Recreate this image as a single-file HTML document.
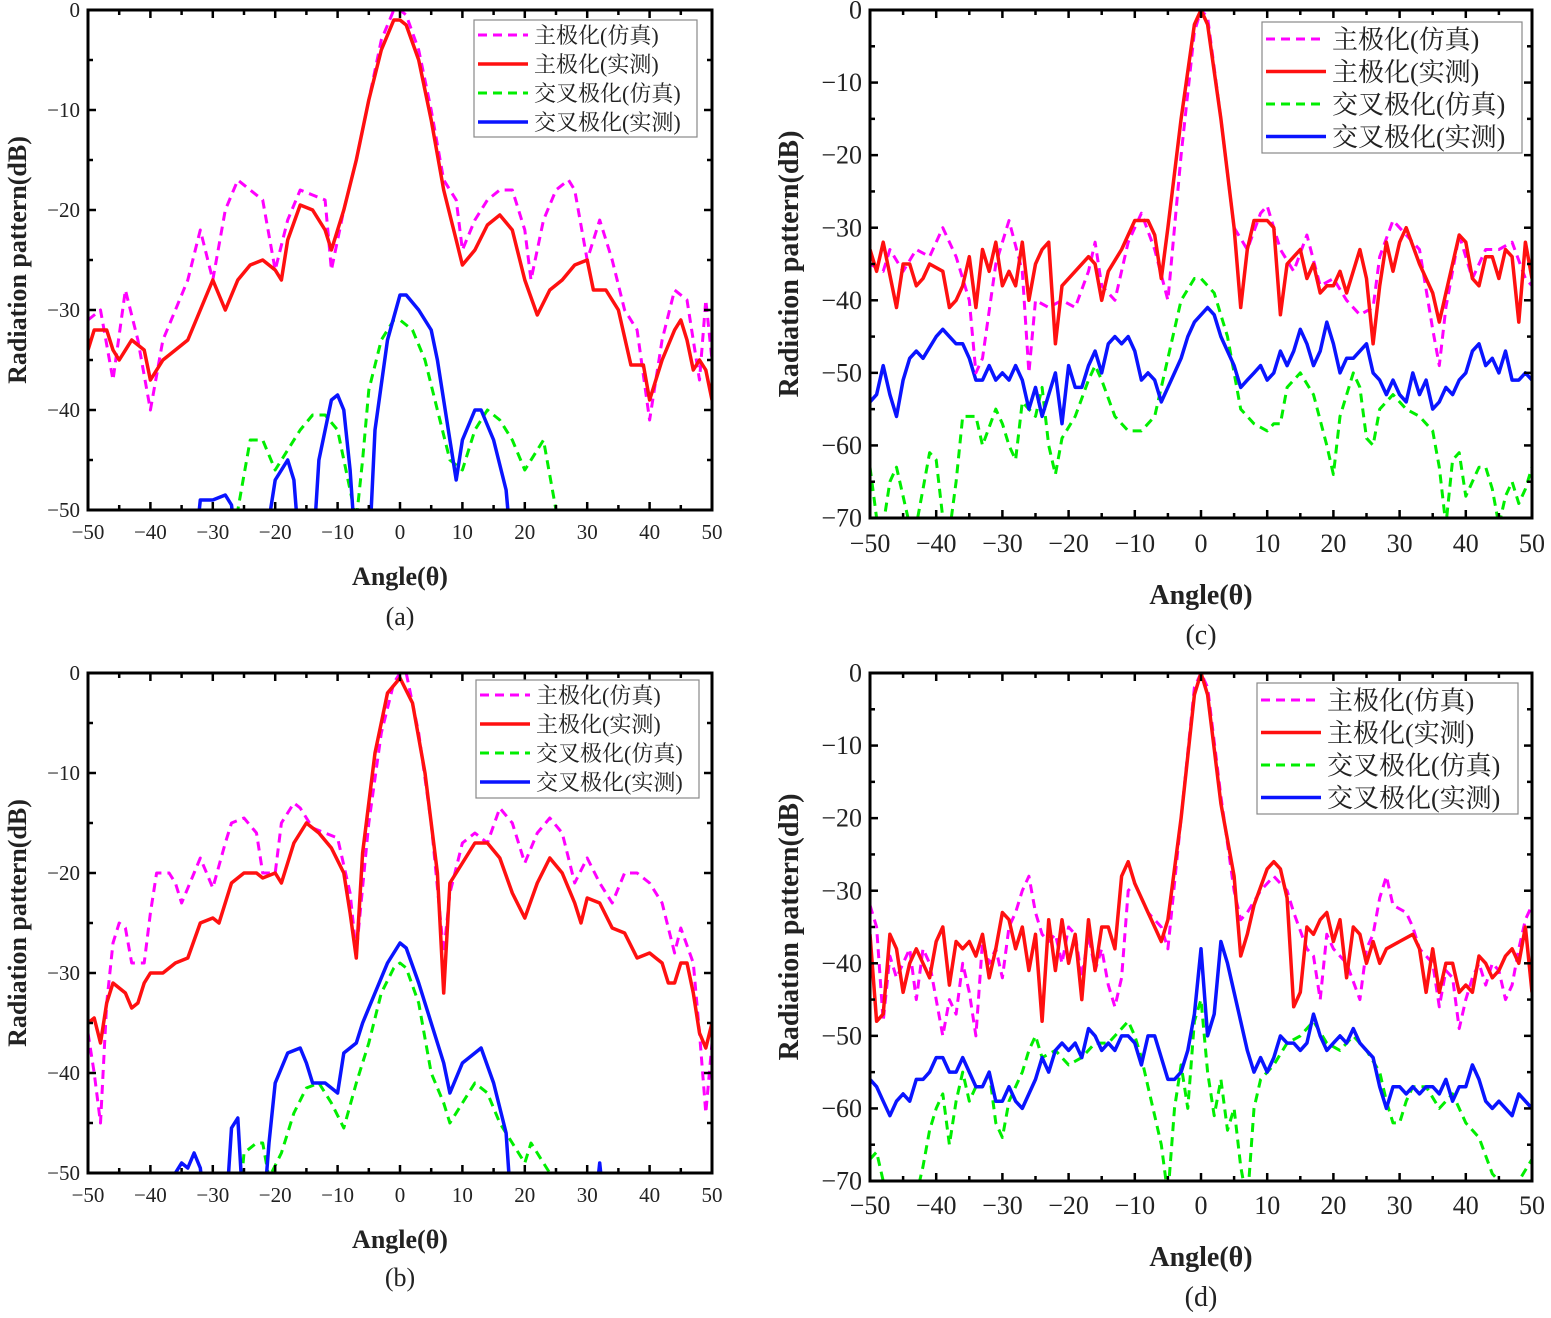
<!DOCTYPE html>
<html><head><meta charset="utf-8">
<style>
html,body{margin:0;padding:0;background:#fff;}
svg{display:block;}
text{font-family:"Liberation Serif","Noto Serif CJK SC","Noto Sans CJK SC",serif;fill:#222;}
</style></head>
<body>
<svg id="fig" width="1551" height="1318" viewBox="0 0 1551 1318" xmlns="http://www.w3.org/2000/svg"></svg>
<script>
// ---------- Panel (a) data ----------
const aMainSim=[[-50,-31],[-48,-30],[-46,-37],[-44,-28],[-42,-33],[-40,-40],[-38,-33],[-36,-30],[-34,-27],[-32,-22],[-30,-27],[-28,-20],[-26,-17],[-24,-18],[-22,-19],[-20,-26],[-18,-21],[-16,-18],[-14,-18.5],[-12,-19],[-11,-26],[-9,-20],[-7,-15],[-5,-9],[-3,-3],[-1,0],[0,0],[1,-0.5],[3,-4],[5,-10],[7,-17],[9,-19],[10,-24],[12,-21],[14,-19],[16,-18],[18,-18],[20,-22],[21,-27],[23,-21],[25,-18],[27,-17],[28,-18],[30,-25],[32,-21],[34,-25],[36,-30],[38,-32],[40,-41],[42,-33],[44,-28],[46,-29],[48,-37],[49,-29],[50,-35]];
const aMainMeas=[[-50,-34],[-49,-32],[-47,-32],[-46,-34],[-45,-35],[-43,-33],[-41,-34],[-40,-37],[-38,-35],[-36,-34],[-34,-33],[-32,-30],[-30,-27],[-28,-30],[-26,-27],[-24,-25.5],[-22,-25],[-20,-26],[-19,-27],[-18,-23],[-16,-19.5],[-14,-20],[-12,-22],[-11,-24],[-9,-20],[-7,-15],[-5,-9],[-3,-4],[-1,-1],[0,-1],[1,-1.5],[3,-5],[5,-11],[7,-18],[9,-23],[10,-25.5],[12,-24],[14,-21.5],[16,-20.5],[18,-22],[20,-27],[22,-30.5],[24,-28],[26,-27],[28,-25.5],[30,-25],[31,-28],[33,-28],[35,-30],[37,-35.5],[39,-35.5],[40,-39],[42,-35],[44,-32],[45,-31],[46,-33],[47,-36],[48,-35],[49,-36],[50,-39]];
const aCrossSim=[[-27,-55],[-26,-50],[-24,-43],[-22,-43],[-20,-46],[-18,-44],[-16,-42],[-14,-40.5],[-12,-40.5],[-10,-42],[-8,-48],[-7,-51],[-6,-45],[-5,-38],[-3,-33],[-1,-31],[0,-31],[2,-32],[4,-35],[6,-40],[8,-45],[10,-46],[12,-42],[14,-40],[16,-41],[18,-43],[20,-46],[22,-44],[23,-43],[25,-50],[26,-55]];
const aCrossMeas=[[-33,-55],[-32,-49],[-30,-49],[-28,-48.5],[-27,-49.5],[-26,-55],[-22,-55],[-20,-47],[-18,-45],[-17,-47],[-16,-55],[-14,-55],[-13,-45],[-11,-39],[-10,-38.5],[-9,-40],[-8,-46],[-7,-55],[-5,-55],[-4,-42],[-2,-33],[0,-28.5],[1,-28.5],[3,-30],[5,-32],[6,-35],[8,-43],[9,-47],[10,-43],[12,-40],[13,-40],[15,-43],[17,-48],[18,-55]];
// ---------- Panel (b) data ----------
const bMainSim=[[-50,-36],[-49,-40],[-48,-45],[-47,-33],[-46,-27],[-45,-25],[-44,-25.5],[-43,-29],[-41,-29],[-40,-24],[-39,-20],[-37,-20],[-36,-21],[-35,-23],[-33,-20],[-32,-18.5],[-31,-20],[-30,-21.5],[-28,-17],[-27,-15],[-25,-14.5],[-23,-16],[-22,-20],[-20,-20],[-19,-15],[-17,-13],[-16,-13.5],[-14,-15.5],[-12,-16],[-10,-16.5],[-8,-22],[-7,-28],[-5,-15],[-3,-6],[-1,-1],[0,0],[1,0],[3,-6],[5,-15],[7,-28],[8,-22],[10,-17],[12,-16],[14,-17],[16,-13.5],[18,-15],[20,-19],[22,-16],[24,-14.5],[26,-16],[28,-21],[30,-18.5],[32,-21],[34,-23],[36,-20],[38,-20],[40,-21],[42,-23],[44,-28],[45,-25.5],[47,-29],[48,-36],[49,-44],[50,-37]];
const bMainMeas=[[-50,-35],[-49,-34.5],[-48,-37],[-47,-33],[-46,-31],[-45,-31.5],[-44,-32],[-43,-33.5],[-42,-33],[-41,-31],[-40,-30],[-38,-30],[-36,-29],[-34,-28.5],[-32,-25],[-30,-24.5],[-29,-25],[-27,-21],[-25,-20],[-23,-20],[-22,-20.5],[-20,-20],[-19,-21],[-17,-17],[-15,-15],[-13,-16],[-11,-17.5],[-9,-20],[-8,-24],[-7,-28.5],[-6,-18],[-4,-8],[-2,-2],[0,-0.5],[2,-3],[4,-10],[6,-20],[7,-32],[8,-21],[10,-19],[12,-17],[14,-17],[16,-18.5],[18,-22],[20,-24.5],[22,-21],[24,-18.5],[26,-20],[28,-23],[29,-25],[30,-22.5],[32,-23],[34,-25.5],[36,-26],[38,-28.5],[40,-28],[41,-28.5],[42,-29],[43,-31],[44,-31],[45,-29],[46,-29],[47,-32],[48,-36],[49,-37.5],[50,-35]];
const bCrossSim=[[-26,-55],[-25,-48],[-23,-47],[-22,-47],[-21,-50.5],[-19,-48],[-17,-44],[-15,-41.5],[-13,-41],[-11,-43],[-9,-45.5],[-7,-41],[-5,-37],[-3,-32],[-1,-29.5],[0,-29],[1,-29.5],[3,-33],[5,-40],[7,-43],[8,-45],[10,-43],[12,-41],[14,-42],[16,-45],[18,-47],[20,-49],[21,-47],[23,-49],[25,-51],[26,-55]];
const bCrossMeas=[[-37,-55],[-36,-50],[-35,-49],[-34,-49.5],[-33,-48],[-32,-49.5],[-31,-55],[-28,-55],[-27,-45.5],[-26,-44.5],[-25,-55],[-22,-55],[-21,-47],[-20,-41],[-18,-38],[-16,-37.5],[-15,-39],[-14,-41],[-12,-41],[-11,-41.5],[-10,-42],[-9,-38],[-7,-37],[-6,-35],[-4,-32],[-2,-29],[0,-27],[1,-27.5],[3,-31],[5,-35],[7,-39],[8,-42],[10,-39],[12,-38],[13,-37.5],[15,-41],[17,-46],[18,-55],[29,-55],[30,-50.5],[31,-55],[32,-49],[33,-55]];
// ---------- Panel (c) data ----------
const cMainSim=[[-50,-35],[-48,-36],[-47,-33],[-45,-36],[-43,-33],[-41,-34],[-39,-30],[-37,-34],[-35,-40],[-34,-50],[-33,-48],[-31,-35],[-29,-29],[-27,-36],[-26,-50],[-25,-40],[-23,-41],[-21,-40],[-19,-41],[-17,-36],[-16,-32],[-15,-38],[-13,-40],[-11,-32],[-9,-28],[-7,-33],[-5,-40],[-3,-20],[-1,-3],[0,0],[1,-1],[3,-15],[5,-30],[7,-33],[9,-28],[10,-27],[12,-33],[14,-36],[16,-31],[18,-38],[20,-37],[22,-40],[24,-42],[26,-41],[27,-34],[29,-29],[31,-31],[33,-33],[35,-44],[36,-49],[37,-41],[39,-31],[41,-37],[43,-33],[45,-33],[47,-32],[49,-37],[50,-38]];
const cMainMeas=[[-50,-33],[-49,-36],[-48,-32],[-46,-41],[-45,-35],[-44,-35],[-43,-38],[-42,-37],[-41,-35],[-39,-36],[-38,-41],[-37,-40],[-36,-38],[-35,-34],[-34,-41],[-33,-33],[-32,-36],[-31,-32],[-30,-38],[-29,-36],[-28,-38],[-27,-32],[-26,-40],[-25,-35],[-24,-33],[-23,-32],[-22,-46],[-21,-38],[-19,-36],[-17,-34],[-16,-35],[-15,-40],[-14,-36],[-12,-33],[-10,-29],[-8,-29],[-7,-31],[-6,-37],[-5,-30],[-3,-15],[-1,-2],[0,0],[1,-2],[3,-15],[5,-30],[6,-41],[7,-33],[8,-29],[10,-29],[11,-30],[12,-42],[13,-35],[15,-33],[16,-37],[17,-35],[18,-39],[19,-38],[20,-38],[21,-36],[22,-39],[24,-33],[25,-37],[26,-46],[27,-38],[28,-32],[29,-36],[30,-32],[31,-30],[33,-35],[35,-39],[36,-43],[37,-39],[39,-31],[40,-32],[41,-37],[42,-38],[43,-34],[44,-34],[45,-37],[46,-33],[47,-34],[48,-43],[49,-32],[50,-37]];
const cCrossSim=[[-50,-63],[-49,-70],[-48,-71],[-47,-65],[-46,-63],[-44,-71],[-43,-71],[-42,-66],[-41,-61],[-40,-62],[-39,-70],[-38,-72],[-37,-65],[-36,-56],[-34,-56],[-33,-60],[-31,-55],[-30,-57],[-29,-60],[-28,-62],[-27,-54],[-25,-56],[-24,-52],[-23,-60],[-22,-64],[-21,-59],[-19,-56],[-17,-51],[-16,-49],[-15,-51],[-13,-56],[-11,-58],[-9,-58],[-7,-56],[-5,-48],[-3,-40],[-1,-37],[0,-37],[2,-39],[4,-45],[6,-55],[8,-57],[10,-58],[11,-57],[12,-57],[13,-52],[15,-50],[17,-53],[19,-60],[20,-64],[21,-56],[23,-50],[24,-52],[25,-59],[26,-60],[27,-55],[29,-53],[31,-55],[33,-56],[35,-58],[36,-63],[37,-71],[38,-62],[39,-61],[40,-67],[42,-63],[43,-63],[44,-66],[45,-71],[46,-67],[47,-65],[48,-68],[49,-66],[50,-63]];
const cCrossMeas=[[-50,-54],[-49,-53],[-48,-49],[-47,-53],[-46,-56],[-45,-51],[-44,-48],[-43,-47],[-42,-48],[-40,-45],[-39,-44],[-38,-45],[-37,-46],[-36,-46],[-35,-48],[-34,-51],[-33,-51],[-32,-49],[-31,-51],[-30,-50],[-29,-51],[-28,-49],[-27,-51],[-26,-55],[-25,-52],[-24,-56],[-23,-53],[-22,-50],[-21,-57],[-20,-49],[-19,-52],[-18,-52],[-17,-49],[-16,-47],[-15,-50],[-14,-46],[-13,-45],[-12,-46],[-11,-45],[-10,-47],[-9,-51],[-8,-50],[-7,-51],[-6,-54],[-5,-52],[-4,-50],[-3,-48],[-2,-45],[-1,-43],[0,-42],[1,-41],[2,-42],[3,-45],[4,-47],[5,-49],[6,-52],[7,-51],[8,-50],[9,-49],[10,-51],[11,-50],[12,-47],[13,-49],[14,-47],[15,-44],[16,-46],[17,-49],[18,-47],[19,-43],[20,-46],[21,-50],[22,-48],[23,-48],[24,-47],[25,-46],[26,-50],[27,-51],[28,-53],[29,-51],[30,-53],[31,-54],[32,-50],[33,-53],[34,-51],[35,-55],[36,-54],[37,-52],[38,-53],[39,-51],[40,-50],[41,-47],[42,-46],[43,-49],[44,-48],[45,-50],[46,-47],[47,-51],[48,-51],[49,-50],[50,-51]];
// ---------- Panel (d) data ----------
const dMainSim=[[-50,-32],[-49,-35],[-48,-48],[-47,-39],[-46,-42],[-44,-38],[-43,-45],[-42,-38],[-41,-40],[-40,-45],[-39,-50],[-38,-45],[-37,-47],[-36,-40],[-35,-44],[-34,-50],[-33,-37],[-32,-40],[-31,-38],[-30,-42],[-29,-35],[-28,-33],[-27,-30],[-26,-28],[-25,-33],[-24,-36],[-23,-37],[-22,-36],[-21,-40],[-20,-35],[-19,-36],[-18,-42],[-17,-36],[-16,-41],[-15,-38],[-14,-43],[-13,-46],[-12,-42],[-11,-30],[-10,-29],[-9,-31],[-8,-33],[-6,-35],[-5,-38],[-3,-20],[-1,-2],[0,0],[1,-2],[3,-17],[5,-30],[6,-34],[7,-33],[9,-30],[11,-28],[13,-30],[14,-33],[16,-38],[17,-39],[18,-45],[19,-36],[20,-38],[22,-40],[24,-45],[25,-38],[26,-36],[27,-31],[28,-28],[29,-32],[31,-33],[32,-35],[33,-38],[34,-39],[35,-40],[36,-46],[37,-41],[38,-42],[39,-49],[40,-45],[41,-42],[42,-40],[43,-43],[44,-40],[45,-41],[46,-45],[47,-43],[48,-38],[49,-34],[50,-32]];
const dMainMeas=[[-50,-36],[-49,-48],[-48,-47],[-47,-36],[-46,-38],[-45,-44],[-44,-40],[-43,-38],[-42,-40],[-41,-42],[-40,-37],[-39,-35],[-38,-43],[-37,-37],[-36,-38],[-35,-37],[-34,-39],[-33,-36],[-32,-42],[-31,-38],[-30,-33],[-29,-34],[-28,-38],[-27,-35],[-26,-41],[-25,-36],[-24,-48],[-23,-34],[-22,-41],[-21,-34],[-20,-40],[-19,-36],[-18,-45],[-17,-34],[-16,-41],[-15,-35],[-14,-35],[-13,-38],[-12,-28],[-11,-26],[-10,-29],[-9,-31],[-8,-33],[-7,-35],[-6,-37],[-5,-34],[-3,-20],[-1,-3],[0,0],[1,-3],[3,-18],[5,-28],[6,-39],[7,-36],[8,-32],[10,-27],[11,-26],[12,-27],[13,-31],[14,-46],[15,-44],[16,-35],[17,-36],[18,-34],[19,-33],[20,-37],[21,-34],[22,-42],[23,-35],[24,-36],[25,-40],[26,-37],[27,-40],[28,-38],[30,-37],[32,-36],[33,-38],[34,-44],[35,-38],[36,-44],[37,-40],[38,-40],[39,-44],[40,-43],[41,-44],[42,-39],[43,-40],[44,-42],[45,-41],[46,-39],[47,-38],[48,-40],[49,-35],[50,-44]];
const dCrossSim=[[-50,-67],[-49,-66],[-48,-70],[-47,-71],[-45,-72],[-43,-72],[-42,-68],[-41,-63],[-40,-60],[-39,-58],[-38,-65],[-37,-59],[-36,-55],[-35,-59],[-34,-57],[-33,-57],[-32,-55],[-31,-62],[-30,-64],[-29,-59],[-28,-57],[-27,-55],[-26,-52],[-25,-50],[-24,-53],[-22,-52],[-20,-54],[-18,-53],[-16,-51],[-14,-51],[-12,-49],[-11,-48],[-10,-50],[-9,-53],[-8,-57],[-7,-61],[-6,-65],[-5,-72],[-4,-60],[-3,-54],[-2,-60],[-1,-48],[0,-45],[1,-55],[2,-61],[3,-56],[4,-63],[5,-60],[6,-68],[7,-73],[8,-60],[9,-56],[11,-54],[13,-51],[15,-50],[17,-48],[19,-51],[21,-52],[23,-50],[25,-52],[27,-55],[28,-59],[29,-62],[30,-62],[31,-59],[32,-57],[34,-57],[36,-60],[38,-58],[40,-62],[42,-64],[44,-69],[46,-71],[48,-70],[50,-67]];
const dCrossMeas=[[-50,-56],[-49,-57],[-48,-59],[-47,-61],[-46,-59],[-45,-58],[-44,-59],[-43,-56],[-42,-56],[-41,-55],[-40,-53],[-39,-53],[-38,-55],[-37,-55],[-36,-53],[-35,-55],[-34,-57],[-33,-57],[-32,-55],[-31,-59],[-30,-59],[-29,-57],[-28,-59],[-27,-60],[-26,-58],[-25,-56],[-24,-53],[-23,-55],[-22,-52],[-21,-51],[-20,-52],[-19,-51],[-18,-53],[-17,-49],[-16,-50],[-15,-52],[-14,-51],[-13,-52],[-12,-50],[-11,-50],[-10,-51],[-9,-54],[-8,-50],[-7,-50],[-6,-53],[-5,-56],[-4,-56],[-3,-55],[-2,-52],[-1,-47],[0,-38],[1,-50],[2,-47],[3,-37],[4,-40],[5,-44],[6,-48],[7,-52],[8,-55],[9,-53],[10,-55],[11,-53],[12,-50],[13,-51],[14,-51],[15,-52],[16,-51],[17,-47],[18,-50],[19,-52],[20,-51],[21,-50],[22,-51],[23,-49],[24,-51],[25,-52],[26,-53],[27,-57],[28,-60],[29,-57],[30,-57],[31,-58],[32,-57],[33,-58],[34,-57],[35,-57],[36,-58],[37,-56],[38,-59],[39,-57],[40,-57],[41,-54],[42,-56],[43,-59],[44,-60],[45,-59],[46,-60],[47,-61],[48,-58],[49,-59],[50,-60]];
const xTicks=[-50,-40,-30,-20,-10,0,10,20,30,40,50];
const yTicksAB=[0,-10,-20,-30,-40,-50];
const yTicksCD=[0,-10,-20,-30,-40,-50,-60,-70];
const legendLabels=["主极化(仿真)","主极化(实测)","交叉极化(仿真)","交叉极化(实测)"];

const NS="http://www.w3.org/2000/svg";
const svg=document.getElementById('fig');
function mk(tag,attrs,parent){const e=document.createElementNS(NS,tag);for(const k in attrs)e.setAttribute(k,attrs[k]);(parent||svg).appendChild(e);return e;}
const fmt=v=>v<0?"\u2212"+Math.abs(v):String(v);

const styles=[
 {c:"#ff00ff",w:3,d:"9 6"},{c:"#ff1010",w:3.5,d:""},{c:"#00ee00",w:3,d:"9 6"},{c:"#0a14ff",w:3.5,d:""}];

function panel(id,p){
  const g=mk('g',{});
  
  
  const sx=v=>p.x0+(v+50)/100*(p.x1-p.x0);
  const sy=v=>p.y0+(-v)/(-p.ymin)*(p.y1-p.y0);
  const cp=mk('clipPath',{id:'clip'+id},g);
  mk('rect',{x:p.x0,y:p.y0,width:p.x1-p.x0,height:p.y1-p.y0},cp);
  const series=[p.s[0],p.s[1],p.s[2],p.s[3]];
  const names=['main-pol-sim-line','main-pol-meas-line','cross-pol-sim-line','cross-pol-meas-line'];
  const order=[2,3,0,1];
  order.forEach(i=>{
    const d=series[i].map((q,k)=>(k?'L':'M')+sx(q[0]).toFixed(1)+' '+sy(q[1]).toFixed(1)).join(' ');
    const path=mk('path',{d:d,fill:'none',stroke:styles[i].c,'stroke-width':styles[i].w,'stroke-dasharray':styles[i].d,'stroke-linejoin':'round','clip-path':'url(#clip'+id+')'},g);
    
    
  });
  const fr=mk('rect',{x:p.x0,y:p.y0,width:p.x1-p.x0,height:p.y1-p.y0,fill:'none',stroke:'#000','stroke-width':3},g);
  
  
  for(let v=-50;v<=50;v+=5){
    const L=(v%10===0)?8:5;const x=sx(v);
    mk('line',{x1:x,y1:p.y1,x2:x,y2:p.y1-L,stroke:'#000','stroke-width':2.5},g);
    mk('line',{x1:x,y1:p.y0,x2:x,y2:p.y0+L,stroke:'#000','stroke-width':2.5},g);
  }
  xTicks.forEach(v=>{
    const t=mk('text',{x:sx(v),y:p.xly,'font-size':p.fs,'text-anchor':'middle'},g);t.textContent=fmt(v);
    
    
  });
  for(let v=0;v>=p.ymin;v-=5){
    const L=(v%10===0)?8:5;const y=sy(v);
    mk('line',{x1:p.x0,y1:y,x2:p.x0+L,y2:y,stroke:'#000','stroke-width':2.5},g);
    mk('line',{x1:p.x1,y1:y,x2:p.x1-L,y2:y,stroke:'#000','stroke-width':2.5},g);
  }
  p.yt.forEach(v=>{
    const t=mk('text',{x:p.x0-8,y:sy(v)+p.fs*0.33,'font-size':p.fs,'text-anchor':'end'},g);t.textContent=fmt(v);
    
    
  });
  const xt=mk('text',{x:(p.x0+p.x1)/2,y:p.xty,'font-size':p.tfs,'font-weight':'bold','text-anchor':'middle'},g);xt.textContent='Angle(θ)';
  
  
  const yt=mk('text',{x:0,y:0,'font-size':p.tfs,'font-weight':'bold','text-anchor':'middle',transform:'translate('+p.ytx+','+((p.y0+p.y1)/2)+') rotate(-90)'},g);yt.textContent='Radiation pattern(dB)';
  
  
  const cap=mk('text',{x:(p.x0+p.x1)/2,y:p.capy,'font-size':p.tfs,'text-anchor':'middle'},g);cap.textContent='('+id+')';
  
  
  const lg=mk('g',{},g);
  
  
  const L=p.lg;
  mk('rect',{x:L.x,y:L.y,width:L.w,height:L.h,fill:'#fff',stroke:'#888','stroke-width':1.2},lg);
  legendLabels.forEach((lab,i)=>{
    const y=L.y+L.r0+i*L.dy;
    mk('line',{x1:L.x+4,y1:y,x2:L.x+4+L.ll,y2:y,stroke:styles[i].c,'stroke-width':styles[i].w,'stroke-dasharray':styles[i].d},lg);
    const t=mk('text',{x:L.x+L.ll+10,y:y+L.fs*0.36,'font-size':L.fs},lg);t.textContent=lab;
    
    
  });
}
panel('a',{x0:88,x1:712,y0:10,y1:510,ymin:-50,yt:yTicksAB,fs:21,tfs:26,xly:539,xty:585,ytx:26,capy:625,s:[aMainSim,aMainMeas,aCrossSim,aCrossMeas],lg:{x:474,y:20,w:223,h:117,r0:15,dy:29,ll:50,fs:22}});
panel('b',{x0:88,x1:712,y0:673,y1:1173,ymin:-50,yt:yTicksAB,fs:21,tfs:26,xly:1202,xty:1248,ytx:26,capy:1286,s:[bMainSim,bMainMeas,bCrossSim,bCrossMeas],lg:{x:476,y:680,w:223,h:118,r0:15,dy:29,ll:50,fs:22}});
panel('c',{x0:870,x1:1532,y0:10,y1:518,ymin:-70,yt:yTicksCD,fs:26,tfs:28,xly:552,xty:604,ytx:798,capy:644,s:[cMainSim,cMainMeas,cCrossSim,cCrossMeas],lg:{x:1262,y:22,w:260,h:131,r0:17,dy:32.5,ll:60,fs:26}});
panel('d',{x0:870,x1:1532,y0:673,y1:1181,ymin:-70,yt:yTicksCD,fs:26,tfs:28,xly:1214,xty:1266,ytx:798,capy:1306,s:[dMainSim,dMainMeas,dCrossSim,dCrossMeas],lg:{x:1257,y:683,w:261,h:131,r0:17,dy:32.5,ll:60,fs:26}});
</script>
</body></html>
